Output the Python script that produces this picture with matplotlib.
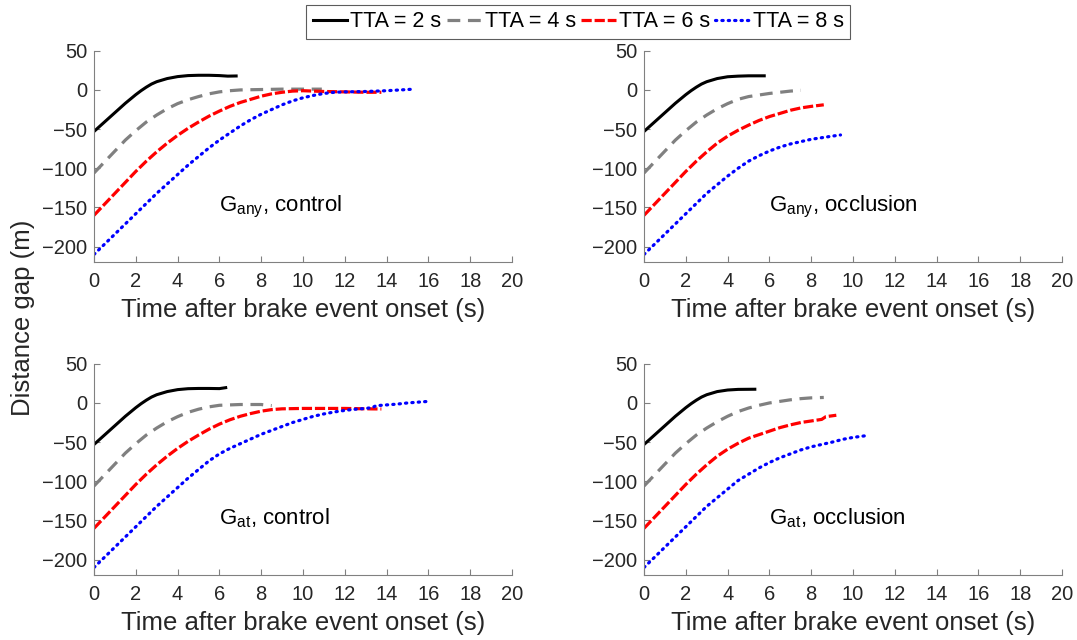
import numpy as np
import matplotlib as mpl
import matplotlib.pyplot as plt

mpl.rcParams['font.family'] = 'Liberation Sans'
mpl.rcParams['mathtext.fontset'] = 'custom'
mpl.rcParams['mathtext.rm'] = 'Liberation Sans'

# Data: time after brake onset (s) and distance gap (m)
# Panel 1: G_any, control
any_ctrl_t2 = [0, 0.5, 1, 1.5, 2, 2.25, 2.5, 2.75, 3, 3.5, 4, 4.5, 5, 5.5, 6, 6.4, 6.8]
any_ctrl_y2 = [-53, -41, -29, -17, -6, -1, 3.5, 7.5, 10.5, 14.5, 17, 18.3, 18.7, 18.7, 18.3, 17.6, 17.8]
any_ctrl_t4 = [0, 0.5, 1, 1.5, 2, 2.5, 3, 3.5, 4, 4.5, 5, 5.5, 6, 6.5, 7, 8, 9, 10, 10.9]
any_ctrl_y4 = [-106, -92, -78, -64, -52, -41, -32, -24, -17.5, -12.5, -8.5, -5, -2.5, -1, 0, 0.5, 1, 1, 1]
any_ctrl_t6 = [0, 0.5, 1, 1.5, 2, 2.5, 3, 3.5, 4, 4.5, 5, 5.5, 6, 6.5, 7, 7.5, 8, 8.5, 9, 9.5, 10, 11, 12, 13, 13.75]
any_ctrl_y6 = [-160, -146, -132, -118, -104, -91, -79, -68, -58, -49, -41, -33.5, -27, -21, -16, -12, -8, -5, -3,
               -1.5, -1, -2, -2.5, -3, -3]
any_ctrl_t8 = [0, 0.5, 1, 1.5, 2, 2.5, 3, 3.5, 4, 4.5, 5, 5.5, 6, 6.5, 7, 7.5, 8, 8.5, 9, 9.5, 10, 10.5, 11, 11.5,
               12, 13, 14, 15, 15.3]
any_ctrl_y8 = [-210, -197, -184, -171, -158, -145, -132, -120, -108, -96, -85, -74, -64, -55, -46, -38, -31, -25,
               -19, -14, -10, -7, -4.5, -3, -2.5, -2, -1, 0.5, 1]

# Panel 2: G_any, occlusion
any_occ_t2 = [0, 0.5, 1, 1.5, 2, 2.25, 2.5, 2.75, 3, 3.5, 4, 4.5, 5, 5.75]
any_occ_y2 = [-53, -41, -29, -17, -6, -1, 3.5, 7.5, 10.5, 14.5, 16.8, 17.6, 18, 18]
any_occ_t4 = [0, 0.5, 1, 1.5, 2, 2.5, 3, 3.5, 4, 4.5, 5, 5.5, 6, 6.5, 7, 7.5]
any_occ_y4 = [-106, -92, -78, -64, -52, -41, -32, -24, -17.5, -12, -8.5, -6.5, -4.5, -3, -1.5, -0.5]
any_occ_t6 = [0, 0.5, 1, 1.5, 2, 2.5, 3, 3.5, 4, 4.5, 5, 5.5, 6, 6.5, 7, 7.5, 8, 8.6]
any_occ_y6 = [-160, -146, -132, -118, -104, -91, -79, -68, -59, -51.5, -45, -39, -34, -30, -26, -23, -21, -19]
any_occ_t8 = [0, 0.5, 1, 1.5, 2, 2.5, 3, 3.5, 4, 4.5, 5, 5.5, 6, 6.5, 7, 7.5, 8, 8.5, 9, 9.4]
any_occ_y8 = [-210, -197, -184, -171, -158, -145, -132, -121, -110, -100, -91, -84, -78, -73, -69, -66, -63, -61,
              -59, -57.5]

# Panel 3: G_at, control
at_ctrl_t2 = [0, 0.5, 1, 1.5, 2, 2.25, 2.5, 2.75, 3, 3.5, 4, 4.5, 5, 5.5, 6, 6.3]
at_ctrl_y2 = [-53, -41, -29, -17, -6, -1, 3.5, 7.5, 10.5, 14.5, 17, 18.2, 18.5, 18.5, 18.3, 19.5]
at_ctrl_t4 = [0, 0.5, 1, 1.5, 2, 2.5, 3, 3.5, 4, 4.5, 5, 5.5, 6, 7, 8, 8.3, 8.5]
at_ctrl_y4 = [-106, -92, -78, -64, -52, -41, -32, -24, -17.5, -12, -8, -5, -3, -2, -2, -3, -3.4]
at_ctrl_t6 = [0, 0.5, 1, 1.5, 2, 2.5, 3, 3.5, 4, 4.5, 5, 5.5, 6, 6.5, 7, 7.5, 8, 8.5, 9, 10, 11, 12, 13, 13.75]
at_ctrl_y6 = [-160, -146, -132, -118, -104, -91, -79, -68, -58, -49, -41, -33.5, -27, -21.5, -17, -13.5, -10.5,
              -8.5, -7.5, -7, -7, -7, -7.5, -7.7]
at_ctrl_t8 = [0, 0.5, 1, 1.5, 2, 2.5, 3, 3.5, 4, 4.5, 5, 5.5, 6, 6.5, 7, 7.5, 8, 8.5, 9, 9.5, 10, 10.5, 11, 11.5,
              12, 12.5, 13, 13.3, 13.5, 14, 14.5, 15, 15.5, 16]
at_ctrl_y8 = [-210, -197, -184, -171, -158, -145, -132, -120, -108, -96, -85, -74, -65, -58, -52, -46, -40, -35,
              -30, -25, -21, -17, -14, -11.5, -9.5, -8, -7, -6, -3.5, -2.5, -1.5, 0, 1, 2]

# Panel 4: G_at, occlusion
at_occ_t2 = [0, 0.5, 1, 1.5, 2, 2.25, 2.5, 2.75, 3, 3.5, 4, 4.5, 5.3]
at_occ_y2 = [-53, -41, -29, -17, -6, -1, 3.5, 7.5, 10.5, 14.5, 16.5, 17.3, 17.5]
at_occ_t4 = [0, 0.5, 1, 1.5, 2, 2.5, 3, 3.5, 4, 4.5, 5, 5.5, 6, 6.5, 7, 7.5, 8, 8.6]
at_occ_y4 = [-106, -92, -78, -64, -52, -41, -32, -24, -17, -11, -6.5, -3, 0, 2, 4, 5.5, 6.5, 7]
at_occ_t6 = [0, 0.5, 1, 1.5, 2, 2.5, 3, 3.5, 4, 4.5, 5, 5.5, 6, 6.5, 7, 7.5, 8, 8.5, 8.7, 9.2]
at_occ_y6 = [-160, -146, -132, -118, -104, -91, -79, -68, -59, -51.5, -45, -40.5, -36, -31.5, -28, -25, -23, -21,
             -17.5, -15.7]
at_occ_t8 = [0, 0.5, 1, 1.5, 2, 2.5, 3, 3.5, 4, 4.5, 5, 5.5, 6, 6.5, 7, 7.5, 8, 8.5, 9, 9.5, 10, 10.65]
at_occ_y8 = [-210, -197, -184, -171, -158, -145, -132, -121, -110, -99, -91, -83, -76, -70, -65, -60, -56, -53,
             -50, -46.5, -44, -41.7]

tta_labels = ['TTA = 2 s', 'TTA = 4 s', 'TTA = 6 s', 'TTA = 8 s']
panel_names = [('any', 'control'), ('any', 'occlusion'), ('at', 'control'), ('at', 'occlusion')]

panels = [
    [(any_ctrl_t2, any_ctrl_y2), (any_ctrl_t4, any_ctrl_y4), (any_ctrl_t6, any_ctrl_y6), (any_ctrl_t8, any_ctrl_y8)],
    [(any_occ_t2, any_occ_y2), (any_occ_t4, any_occ_y4), (any_occ_t6, any_occ_y6), (any_occ_t8, any_occ_y8)],
    [(at_ctrl_t2, at_ctrl_y2), (at_ctrl_t4, at_ctrl_y4), (at_ctrl_t6, at_ctrl_y6), (at_ctrl_t8, at_ctrl_y8)],
    [(at_occ_t2, at_occ_y2), (at_occ_t4, at_occ_y4), (at_occ_t6, at_occ_y6), (at_occ_t8, at_occ_y8)],
]

# line styles, one per TTA
styles = [
    dict(color='black', linestyle='-', linewidth=2.2),
    dict(color='#808080', linestyle=(0, (4, 2.4)), linewidth=2.3),
    dict(color='red', linestyle=(0, (3.2, 0.9)), linewidth=2.3),
    dict(color='blue', linestyle=(0, (0.4, 1.6)), linewidth=2.3, dash_capstyle='round'),
]

fig = plt.figure(figsize=(10.77, 6.40), dpi=100)

# axes positions in figure fractions
positions = [
    [0.0873, 0.5902, 0.3881, 0.3305],
    [0.598, 0.5902, 0.3881, 0.3305],
    [0.0873, 0.1011, 0.3881, 0.3305],
    [0.598, 0.1011, 0.3881, 0.3305],
]

handles = []
for k, pos in enumerate(positions):
    ax = fig.add_axes(pos)
    for j, (t, y) in enumerate(panels[k]):
        h, = ax.plot(t, y, **styles[j])
        if k == 0:
            handles.append(h)
    ax.set_xlim(0, 20)
    ax.set_ylim(-220, 50)
    ax.set_xticks(np.arange(0, 21, 2))
    ax.set_yticks([-200, -150, -100, -50, 0, 50])
    ax.spines['top'].set_visible(False)
    ax.spines['right'].set_visible(False)
    for s in ['left', 'bottom']:
        ax.spines[s].set_color('#808080')
    ax.tick_params(direction='in', length=4, color='#808080', labelsize=14.5, labelcolor='#262626')
    ax.tick_params(axis='x', pad=7)
    ax.tick_params(axis='y', pad=5)
    ax.set_xlabel('Time after brake event onset (s)', fontsize=18.5, color='#262626', labelpad=5)
    sub, cond = panel_names[k]
    ax.text(6.0, -155, 'G$_{\\mathregular{%s}}$, %s' % (sub, cond), fontsize=16, va='baseline', ha='left')

fig.text(0.021, 0.503, 'Distance gap (m)', rotation=90, fontsize=18.5, color='#262626', ha='center', va='center')

leg = fig.legend(handles, tta_labels, loc='center', bbox_to_anchor=(0.537, 0.966), ncol=4,
                 fontsize=15.5, frameon=True, fancybox=False, handlelength=1.6, handletextpad=0.15,
                 columnspacing=0.25, borderpad=0.3, borderaxespad=0)
leg.get_frame().set_edgecolor('#333333')
leg.get_frame().set_linewidth(0.8)

plt.savefig('out.png', dpi=100)
plt.close()
